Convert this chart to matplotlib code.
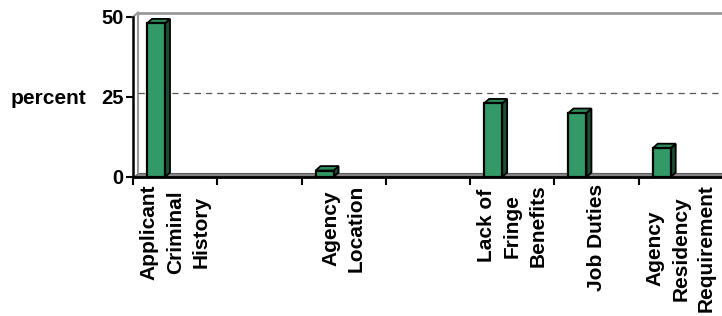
import matplotlib.pyplot as plt
from matplotlib.patches import Polygon, Rectangle

plt.rcParams['font.family'] = ['Liberation Sans', 'DejaVu Sans']

# data
labels = ["Applicant\nCriminal\nHistory", "", "Agency\nLocation", "",
          "Lack of\nFringe\nBenefits", "Job Duties",
          "Agency\nResidency\nRequirement"]
values = [48, 0, 2, 0, 23, 20, 9]
yticks = [0, 25, 50]

front = "#339966"
topc = "#2f8a5a"
side = "#1d4d33"

fig = plt.figure(figsize=(7.22, 3.16), dpi=100)
ax = fig.add_axes([133 / 722, (316 - 177) / 316, 590 / 722, 160 / 316])
n = len(labels)
ax.set_xlim(0, n)
ax.set_ylim(0, 50)

# 3d depth in data units
DX = 5 / (590 / n)
DY = 4.5 / 3.2

# walls
ax.plot([DX, DX], [DY, 50 + DY], color="#999999", lw=1.5, clip_on=False)
ax.plot([0, DX], [50, 50 + DY], color="#999999", lw=1.5, clip_on=False)
ax.plot([DX, n + 0.1], [50 + DY, 50 + DY], color="#999999", lw=2, clip_on=False)
ax.plot([DX, n + 0.1], [25 + DY, 25 + DY], color="#555555", lw=0.9,
        ls=(0, (5, 4)), clip_on=False)
floor = Polygon([(0, 0), (n + 0.1, 0), (n + 0.1, DY), (DX, DY)],
                closed=True, facecolor="#858585", edgecolor="#5a5a5a",
                lw=0.8, clip_on=False)
ax.add_patch(floor)

# bars
w = 18 / (590 / n)
for i, v in enumerate(values):
    if v == 0:
        continue
    x0 = i + 14 / (590 / n)
    ax.add_patch(Polygon([(x0 + w, 0), (x0 + w + DX, DY), (x0 + w + DX, v + DY),
                          (x0 + w, v)], closed=True, facecolor=side,
                         edgecolor="black", lw=1.3, clip_on=False, zorder=3))
    ax.add_patch(Polygon([(x0, v), (x0 + w, v), (x0 + w + DX, v + DY),
                          (x0 + DX, v + DY)], closed=True, facecolor=topc,
                         edgecolor="black", lw=1.3, clip_on=False, zorder=3))
    ax.add_patch(Rectangle((x0, 0), w, v, facecolor=front, edgecolor="black",
                           lw=1.6, clip_on=False, zorder=4))

for s in ["top", "right"]:
    ax.spines[s].set_visible(False)
ax.spines["left"].set_linewidth(1.8)
ax.spines["bottom"].set_linewidth(2)

ax.set_yticks(yticks)
ax.set_yticklabels([str(t) for t in yticks], fontsize=14.5, fontweight="bold")
ax.tick_params(axis="y", length=5, width=1.5, pad=2)

ax.set_xticks(range(n))
ax.set_xticklabels([])
ax.tick_params(axis="x", length=6, width=1.5)
for i, lab in enumerate(labels):
    ax.text(i + 0.5, -2.3, lab, rotation=90, ha="center", va="top",
            multialignment="center", fontsize=15, fontweight="bold",
            linespacing=1.45, clip_on=False)

ax.text(-0.55, 24.5, "percent", ha="right", va="center", fontsize=15,
        fontweight="bold")

fig.savefig("out.png", dpi=100)
